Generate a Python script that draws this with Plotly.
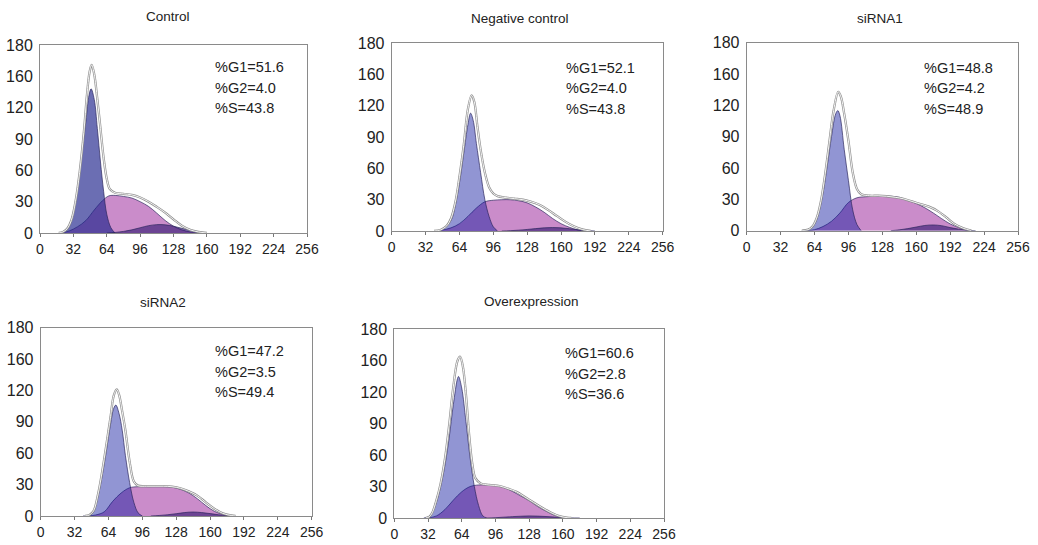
import plotly.graph_objects as go

# ---------------- data ----------------
panel_titles = ["Control", "Negative control", "siRNA1", "siRNA2", "Overexpression"]
pct_g1 = ["51.6", "52.1", "48.8", "47.2", "60.6"]
pct_g2 = ["4.0", "4.0", "4.2", "3.5", "2.8"]
pct_s = ["43.8", "43.8", "48.9", "49.4", "36.6"]

x_tick_vals = [0, 32, 64, 96, 128, 160, 192, 224, 256]
x_tick_text = ["0", "32", "64", "96", "128", "160", "192", "224", "256"]
y_tick_vals = [0, 30, 60, 90, 120, 150, 180]
y_tick_text = ["0", "30", "60", "90", "120", "160", "180"]

# Control
ctrl_g1_x = [20, 24, 28, 32, 36, 40, 44, 47, 49, 52, 55, 58, 61, 64, 68, 72]
ctrl_g1_y = [0, 2, 6, 20, 42, 75, 107, 132, 138, 128, 100, 68, 40, 18, 5, 0]
ctrl_s_x = [20, 28, 36, 44, 52, 60, 66, 72, 80, 88, 96, 104, 112, 120, 128, 136, 144, 152]
ctrl_s_y = [0, 2, 6, 12, 22, 31, 35.5, 36, 35, 33.5, 30, 25.5, 19, 12, 6.5, 3, 1, 0]
ctrl_g2_x = [64, 72, 80, 88, 96, 104, 112, 120, 128, 136, 144, 152, 160]
ctrl_g2_y = [0, 0.5, 1.5, 3, 5, 7, 8, 7.8, 6.5, 4.5, 2.5, 1, 0]
ctrl_tot_x = [18, 22, 26, 30, 34, 38, 42, 45, 47.5, 49.5, 52, 55, 58, 61, 64, 67, 72, 80, 88, 96, 104, 112, 120, 128, 136, 144, 152, 160]
ctrl_tot_y = [0, 1, 4, 12, 30, 58, 96, 132, 154, 161, 152, 128, 100, 72, 52, 42, 38.5, 37.5, 36.5, 34, 30, 25, 19.5, 13, 7, 3, 1, 0]

# Negative control
neg_g1_x = [40, 48, 56, 60, 64, 68, 72, 74.5, 77, 80, 84, 88, 92, 96, 100]
neg_g1_y = [0, 1.5, 10, 24, 46, 74, 102, 113, 106, 84, 56, 30, 14, 4, 0]
neg_s_x = [40, 48, 56, 64, 72, 80, 88, 96, 104, 112, 120, 128, 136, 144, 152, 160, 168, 176, 184]
neg_s_y = [0, 1, 3, 7, 14, 22, 28, 29.5, 30, 30, 29, 27, 23, 18, 12, 7, 3.5, 1, 0]
neg_g2_x = [104, 112, 120, 128, 136, 144, 152, 160, 168, 176, 184, 192]
neg_g2_y = [0, 0.3, 0.8, 1.5, 2.3, 3, 3.3, 3, 2.2, 1.2, 0.4, 0]
neg_tot_x = [40, 46, 52, 56, 60, 64, 68, 72, 75.5, 78, 81, 84, 88, 92, 96, 100, 108, 116, 124, 132, 140, 148, 156, 164, 172, 180, 188]
neg_tot_y = [0, 1, 5, 12, 27, 52, 82, 117, 130, 124, 100, 78, 56, 42, 36, 33.5, 32, 31, 30, 28, 25, 20, 14.5, 9, 4.5, 1.5, 0]

# siRNA1
si1_g1_x = [52, 60, 64, 68, 72, 76, 80, 84, 86, 88, 92, 96, 100, 104, 108]
si1_g1_y = [0, 2, 6, 17, 36, 62, 90, 112, 115, 110, 78, 48, 20, 6, 0]
si1_s_x = [56, 64, 72, 80, 88, 96, 104, 112, 120, 128, 136, 144, 152, 160, 168, 176, 184, 192, 200, 208, 212]
si1_s_y = [0, 1, 4, 9, 17, 27, 31.5, 32.5, 33, 33, 33, 32, 29, 26, 22, 17, 11.5, 6.5, 3, 0.5, 0]
si1_g2_x = [136, 144, 152, 160, 168, 176, 184, 192, 200, 208, 216]
si1_g2_y = [0, 0.8, 2, 3.5, 5, 5.5, 4.8, 3, 1.5, 0.5, 0]
si1_tot_x = [52, 58, 62, 66, 70, 74, 78, 82, 86.4, 89, 92, 96, 100, 104, 108, 116, 124, 132, 140, 148, 156, 164, 172, 180, 188, 196, 204, 212]
si1_tot_y = [0, 1, 4, 12, 28, 54, 85, 115, 133, 128, 112, 86, 56, 40, 35, 33.5, 33.5, 33, 32, 30.5, 28, 25.5, 23, 19, 13, 6.5, 2.5, 0]

# siRNA2
si2_g1_x = [40, 46, 50, 54, 58, 62, 66, 69, 71, 74, 77, 80, 84, 88, 92, 96]
si2_g1_y = [0, 0.5, 4, 18, 38, 62, 88, 103, 106, 98, 82, 58, 32, 13, 3, 0]
si2_s_x = [44, 52, 60, 68, 76, 84, 92, 100, 108, 116, 124, 132, 140, 148, 156, 164, 172, 180]
si2_s_y = [0, 1, 4, 14, 22, 27, 28, 28, 28, 28, 27.5, 25.5, 22, 16.5, 10, 4.5, 1.5, 0]
si2_g2_x = [104, 112, 120, 128, 136, 144, 152, 160, 168, 176, 184]
si2_g2_y = [0, 0.5, 1.2, 2.2, 3.3, 3.8, 3.3, 2.3, 1.2, 0.4, 0]
si2_tot_x = [42, 46, 50, 54, 58, 62, 66, 69, 71.8, 74, 77, 80, 84, 88, 92, 100, 108, 116, 124, 132, 140, 148, 156, 164, 172, 180, 184]
si2_tot_y = [0, 1, 5, 20, 42, 68, 95, 115, 121, 116, 100, 82, 52, 33, 29, 28.5, 28.5, 28.5, 28, 26.5, 23.5, 19.5, 13, 7, 2.5, 0.5, 0]

# Overexpression
ovr_g1_x = [28, 32, 36, 40, 44, 48, 52, 56, 60, 61, 64, 68, 72, 76, 80, 84, 88]
ovr_g1_y = [0, 1, 5, 15, 30, 50, 76, 108, 133, 135, 124, 92, 57, 30, 12, 2, 0]
ovr_s_x = [32, 40, 48, 56, 64, 72, 80, 88, 96, 104, 112, 120, 128, 136, 144, 152, 160, 164]
ovr_s_y = [0, 2, 8, 17, 25, 30, 31.5, 31.5, 31, 29, 25.5, 21, 16.5, 11, 6.5, 2.5, 0.5, 0]
ovr_g2_x = [88, 96, 104, 112, 120, 128, 136, 144, 152, 160, 168, 176]
ovr_g2_y = [0, 0.3, 0.8, 1.3, 1.7, 2, 1.8, 1.4, 0.9, 0.4, 0.1, 0]
ovr_tot_x = [30, 33, 36, 40, 44, 48, 52, 56, 60, 62.4, 65, 68, 71, 74, 77, 82, 90, 100, 108, 116, 124, 132, 140, 148, 156, 164, 168]
ovr_tot_y = [0, 1, 5, 17, 33, 56, 88, 125, 150, 154, 145, 118, 80, 52, 38, 33, 31.5, 30.5, 28, 25, 20, 15, 10, 5.5, 2, 0.3, 0]

panels = [
    (ctrl_g1_x, ctrl_g1_y, ctrl_s_x, ctrl_s_y, ctrl_g2_x, ctrl_g2_y, ctrl_tot_x, ctrl_tot_y),
    (neg_g1_x, neg_g1_y, neg_s_x, neg_s_y, neg_g2_x, neg_g2_y, neg_tot_x, neg_tot_y),
    (si1_g1_x, si1_g1_y, si1_s_x, si1_s_y, si1_g2_x, si1_g2_y, si1_tot_x, si1_tot_y),
    (si2_g1_x, si2_g1_y, si2_s_x, si2_s_y, si2_g2_x, si2_g2_y, si2_tot_x, si2_tot_y),
    (ovr_g1_x, ovr_g1_y, ovr_s_x, ovr_s_y, ovr_g2_x, ovr_g2_y, ovr_tot_x, ovr_tot_y),
]

# ---------------- layout geometry (pixels) ----------------
W, H = 1038, 545
boxes = [  # left, right, top, bottom in pixels
    (40.0, 307.0, 45.0, 233.0),
    (391.7, 662.7, 43.3, 231.0),
    (746.7, 1018.0, 42.7, 230.7),
    (40.7, 311.7, 327.7, 516.0),
    (394.3, 664.0, 329.3, 518.0),
]
title_cx = [168, 520, 880, 163, 531]      # pixel centres of panel titles
title_cy = [17, 18, 18, 302, 301]
stat_left = [213, 564, 922, 213, 563]     # pixel left edge of the stats text
stat_cy = [67, 68, 68, 351, 353]

FONT = "Liberation Sans, Arial, sans-serif"

g1_fill = ["rgba(30,35,140,0.66)"] + ["rgba(15,25,160,0.46)"] * 4
s_fill = "rgba(160,50,160,0.56)"
g2_fill = "rgba(45,20,110,0.6)"
edge = "rgba(40,35,90,0.85)"

fig = go.Figure()
layout = dict(
    width=W, height=H, autosize=False,
    margin=dict(l=0, r=0, t=0, b=0, pad=0),
    paper_bgcolor="white", plot_bgcolor="white",
    showlegend=False,
    font=dict(family=FONT, color="#222"),
)
annotations = []

for i, (g1x, g1y, sx, sy, g2x, g2y, tx, ty) in enumerate(panels):
    n = "" if i == 0 else str(i + 1)
    xa, ya = "x" + n, "y" + n
    L, R, T, B = boxes[i]
    layout["xaxis" + n] = dict(
        domain=[L / W, R / W], range=[0, 256], anchor=ya, automargin=False,
        tickvals=x_tick_vals, ticktext=x_tick_text,
        ticks="outside", ticklen=3, tickcolor="#777", tickwidth=1,
        ticklabeloverflow="allow",
        showline=True, linecolor="#8a8a8a", linewidth=1, mirror=True,
        showgrid=False, zeroline=False, fixedrange=True,
        tickfont=dict(family=FONT, size=14, color="#222"),
    )
    layout["yaxis" + n] = dict(
        domain=[1 - B / H, 1 - T / H], range=[0, 180], anchor=xa, automargin=False,
        tickvals=y_tick_vals, ticktext=y_tick_text,
        ticks="", ticklabelstandoff=3, ticklabeloverflow="allow",
        showline=True, linecolor="#8a8a8a", linewidth=1, mirror=True,
        showgrid=False, zeroline=False, fixedrange=True,
        tickfont=dict(family=FONT, size=16, color="#222"),
    )
    common = dict(xaxis=xa, yaxis=ya, mode="lines", hoverinfo="skip")
    fig.add_trace(go.Scatter(x=sx, y=sy, fill="tozeroy", fillcolor=s_fill,
                             line=dict(color=edge, width=0.8, shape="spline"), **common))
    fig.add_trace(go.Scatter(x=g1x, y=g1y, fill="tozeroy", fillcolor=g1_fill[i],
                             line=dict(color=edge, width=0.8, shape="spline"), **common))
    fig.add_trace(go.Scatter(x=g2x, y=g2y, fill="tozeroy", fillcolor=g2_fill,
                             line=dict(color=edge, width=0.8, shape="spline"), **common))
    fig.add_trace(go.Scatter(x=tx, y=ty,
                             line=dict(color="#909090", width=2.3, shape="spline"), **common))
    fig.add_trace(go.Scatter(x=tx, y=ty,
                             line=dict(color="white", width=0.9, shape="spline"), **common))

    annotations.append(dict(
        text=panel_titles[i], xref="paper", yref="paper",
        x=title_cx[i] / W, y=1 - title_cy[i] / H, xanchor="center", yanchor="middle",
        showarrow=False, font=dict(family=FONT, size=13.5, color="#222"),
    ))
    stats = ["%G1=" + pct_g1[i], "%G2=" + pct_g2[i], "%S=" + pct_s[i]]
    for j, s in enumerate(stats):
        annotations.append(dict(
            text=s, xref="paper", yref="paper",
            x=stat_left[i] / W, y=1 - (stat_cy[i] + 20.5 * j) / H,
            xanchor="left", yanchor="middle", showarrow=False,
            font=dict(family=FONT, size=14.5, color="#222"),
        ))

layout["annotations"] = annotations
fig.update_layout(**layout)
fig.write_html(
    "out.html",
    config={"displayModeBar": False, "staticPlot": True},
    post_script="document.body.style.margin='0';document.body.style.overflow='hidden';",
)
